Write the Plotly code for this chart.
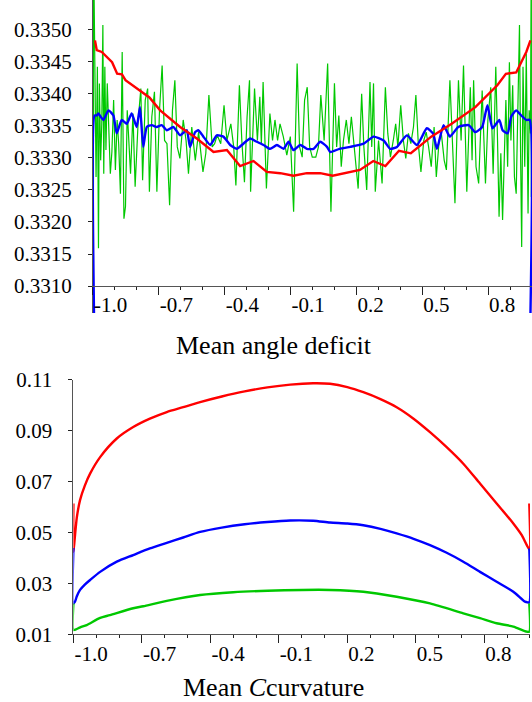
import plotly.graph_objects as go

# ---------------- top panel: Mean angle deficit ----------------
top_red_x = [-0.991, -0.983, -0.960, -0.913, -0.890, -0.868, -0.852, -0.805, -0.743, -0.694,
             -0.603, -0.527, -0.451, -0.390, -0.330, -0.269, -0.208, -0.147, -0.087, -0.026,
             0.035, 0.092, 0.155, 0.216, 0.277, 0.332, 0.394, 0.448, 0.541, 0.634,
             0.742, 0.842, 0.881, 0.928, 0.974, 0.993]
top_red_y = [0.33483, 0.33468, 0.33465, 0.33449, 0.33431, 0.33430, 0.33421, 0.33409, 0.33394, 0.33374,
             0.33348, 0.33330, 0.33309, 0.33312, 0.33287, 0.33295, 0.33278, 0.33276, 0.33272, 0.33276,
             0.33276, 0.33272, 0.33276, 0.33281, 0.33295, 0.33287, 0.33311, 0.33307, 0.33333, 0.33353,
             0.33379, 0.33413, 0.33431, 0.33433, 0.33465, 0.33483]

top_blue_x = [-0.993, -0.993, -0.983, -0.976, -0.953, -0.930, -0.907, -0.892, -0.869, -0.846,
              -0.824, -0.801, -0.786, -0.771, -0.755, -0.732, -0.710, -0.687, -0.664, -0.634,
              -0.603, -0.573, -0.558, -0.535, -0.520, -0.497, -0.466, -0.436, -0.406, -0.375,
              -0.345, -0.315, -0.284, -0.254, -0.223, -0.193, -0.162, -0.132, -0.109, -0.087,
              -0.056, -0.026, 0.005, 0.035, 0.066, 0.081, 0.123, 0.172, 0.233, 0.278,
              0.324, 0.354, 0.385, 0.430, 0.476, 0.521, 0.549, 0.567, 0.597, 0.626,
              0.664, 0.711, 0.742, 0.773, 0.797, 0.820, 0.851, 0.866, 0.889, 0.905,
              0.928, 0.951, 0.974, 0.990, 0.990]
top_blue_y = [0.33000, 0.33366, 0.33366, 0.33369, 0.33359, 0.33374, 0.33366, 0.33338, 0.33359, 0.33353,
              0.33369, 0.33348, 0.33379, 0.33317, 0.33348, 0.33351, 0.33348, 0.33351, 0.33343, 0.33348,
              0.33335, 0.33343, 0.33317, 0.33340, 0.33343, 0.33333, 0.33320, 0.33335, 0.33333, 0.33320,
              0.33314, 0.33322, 0.33330, 0.33325, 0.33320, 0.33314, 0.33320, 0.33314, 0.33325, 0.33312,
              0.33320, 0.33314, 0.33314, 0.33325, 0.33317, 0.33309, 0.33314, 0.33317, 0.33322, 0.33333,
              0.33327, 0.33314, 0.33317, 0.33335, 0.33320, 0.33346, 0.33338, 0.33314, 0.33351, 0.33333,
              0.33348, 0.33351, 0.33340, 0.33348, 0.33382, 0.33346, 0.33359, 0.33343, 0.33338, 0.33364,
              0.33374, 0.33366, 0.33359, 0.33359, 0.33000]

top_green_x = [-0.998, -0.998,
    -0.986, -0.980, -0.975, -0.971, -0.965, -0.960, -0.955, -0.951, -0.946, -0.941,
    -0.935, -0.929, -0.921, -0.914, -0.906, -0.898, -0.890, -0.883, -0.875, -0.867,
    -0.859, -0.852, -0.844, -0.829, -0.818, -0.808, -0.794, -0.782, -0.774, -0.762,
    -0.751, -0.743, -0.732, -0.720, -0.709, -0.697, -0.685, -0.674, -0.663, -0.651,
    -0.638, -0.627, -0.616, -0.604, -0.589, -0.576, -0.565, -0.550, -0.534, -0.519,
    -0.499, -0.486, -0.472, -0.457, -0.446, -0.434, -0.418, -0.403, -0.390, -0.372,
    -0.359, -0.349, -0.333, -0.322, -0.310, -0.298, -0.287, -0.282, -0.271, -0.264,
    -0.251, -0.240, -0.233, -0.225, -0.210, -0.194, -0.182, -0.171, -0.159, -0.148,
    -0.133, -0.117, -0.101, -0.086, -0.070, -0.059, -0.047, -0.036, -0.024, -0.013,
    -0.001, 0.015, 0.027, 0.038, 0.053, 0.069, 0.084, 0.100, 0.110, 0.120,
    0.131, 0.141, 0.154, 0.166, 0.177, 0.192, 0.208, 0.224, 0.234, 0.247,
    0.262, 0.270, 0.278, 0.286, 0.301, 0.317, 0.332, 0.343, 0.355, 0.368,
    0.379, 0.389, 0.402, 0.414, 0.425, 0.437, 0.448, 0.460, 0.471, 0.482,
    0.494, 0.507, 0.518, 0.529, 0.541, 0.554, 0.564, 0.577, 0.587, 0.600,
    0.610, 0.626, 0.638, 0.649, 0.665, 0.677, 0.688, 0.703, 0.719, 0.727,
    0.734, 0.745, 0.757, 0.773, 0.781, 0.788, 0.799, 0.812, 0.823, 0.835,
    0.843, 0.850, 0.858, 0.866, 0.881, 0.889, 0.897, 0.904, 0.912, 0.920,
    0.928, 0.936, 0.943, 0.948, 0.953, 0.959, 0.967, 0.974, 0.982, 0.987,
    0.993, 0.997, 0.997]
top_green_y = [0.33000, 0.33650,
    0.33270, 0.33442, 0.33159, 0.33416, 0.33296, 0.33353, 0.33507, 0.33275, 0.33442, 0.33312,
    0.33416, 0.33348, 0.33275, 0.33309, 0.33390, 0.33281, 0.33359, 0.33322, 0.33244, 0.33465,
    0.33205, 0.33224, 0.33374, 0.33275, 0.33369, 0.33255, 0.33359, 0.33408, 0.33265, 0.33390,
    0.33408, 0.33247, 0.33364, 0.33403, 0.33247, 0.33374, 0.33444, 0.33327, 0.33322, 0.33226,
    0.33374, 0.33421, 0.33317, 0.33299, 0.33359, 0.33327, 0.33275, 0.33348, 0.33296, 0.33340,
    0.33278, 0.33307, 0.33398, 0.33317, 0.33322, 0.33335, 0.33322, 0.33382, 0.33327, 0.33353,
    0.33317, 0.33257, 0.33413, 0.33327, 0.33262, 0.33364, 0.33421, 0.33247, 0.33338, 0.33408,
    0.33327, 0.33395, 0.33322, 0.33418, 0.33252, 0.33369, 0.33327, 0.33359, 0.33327, 0.33353,
    0.33333, 0.33304, 0.33333, 0.33216, 0.33447, 0.33317, 0.33301, 0.33390, 0.33410, 0.33317,
    0.33301, 0.33301, 0.33317, 0.33398, 0.33327, 0.33447, 0.33216, 0.33416, 0.33317, 0.33366,
    0.33286, 0.33327, 0.33359, 0.33322, 0.33364, 0.33312, 0.33252, 0.33400, 0.33317, 0.33250,
    0.33418, 0.33317, 0.33416, 0.33247, 0.33327, 0.33260, 0.33410, 0.33338, 0.33301, 0.33327,
    0.33353, 0.33317, 0.33382, 0.33327, 0.33299, 0.33338, 0.33322, 0.33348, 0.33398, 0.33322,
    0.33278, 0.33327, 0.33340, 0.33317, 0.33286, 0.33348, 0.33270, 0.33327, 0.33338, 0.33296,
    0.33281, 0.33421, 0.33322, 0.33229, 0.33421, 0.33327, 0.33444, 0.33247, 0.33410, 0.33296,
    0.33421, 0.33286, 0.33260, 0.33405, 0.33327, 0.33260, 0.33359, 0.33410, 0.33275, 0.33442,
    0.33327, 0.33208, 0.33307, 0.33203, 0.33390, 0.33286, 0.33449, 0.33327, 0.33413, 0.33270,
    0.33244, 0.33390, 0.33507, 0.33307, 0.33161, 0.33442, 0.33286, 0.33462, 0.33213, 0.33374,
    0.33338, 0.33650, 0.33239]

# ---------------- bottom panel: Mean C curvature ----------------
bot_red_x = [-1.0, -1.0, -0.995, -0.985, -0.971, -0.950, -0.927, -0.883, -0.810, -0.738,
             -0.665, -0.591, -0.519, -0.445, -0.350, -0.250, -0.150, -0.050, 0.050, 0.124,
             0.200, 0.270, 0.345, 0.416, 0.490, 0.562, 0.635, 0.708, 0.781, 0.854,
             0.927, 0.964, 0.986, 0.997, 0.997]
bot_red_y = [0.0615, 0.0425, 0.0470, 0.0560, 0.0628, 0.0685, 0.0732, 0.0797, 0.0870, 0.0915,
             0.0948, 0.0974, 0.0993, 0.1013, 0.1035, 0.1055, 0.1071, 0.1082, 0.1087, 0.1085,
             0.1072, 0.1052, 0.1025, 0.0993, 0.0948, 0.0895, 0.0836, 0.0771, 0.0693, 0.0615,
             0.0536, 0.0490, 0.0451, 0.0435, 0.0615]

bot_blue_x = [-1.0, -1.0, -0.993, -0.985, -0.971, -0.950, -0.927, -0.883, -0.810, -0.738,
              -0.665, -0.591, -0.519, -0.445, -0.350, -0.250, -0.150, -0.050, 0.050, 0.124,
              0.200, 0.270, 0.345, 0.416, 0.490, 0.562, 0.635, 0.708, 0.781, 0.854,
              0.927, 0.978, 0.990, 0.997, 0.997]
bot_blue_y = [0.0440, 0.0222, 0.0229, 0.0250, 0.0275, 0.0296, 0.0314, 0.0346, 0.0386, 0.0412,
              0.0438, 0.0460, 0.0481, 0.0503, 0.0520, 0.0533, 0.0542, 0.0548, 0.0547, 0.0540,
              0.0536, 0.0529, 0.0515, 0.0497, 0.0476, 0.0451, 0.0421, 0.0386, 0.0346, 0.0307,
              0.0268, 0.0229, 0.0226, 0.0226, 0.0438]

bot_green_x = [-1.0, -1.0, -0.989, -0.970, -0.942, -0.883, -0.840, -0.738, -0.694, -0.591,
               -0.445, -0.300, -0.150, 0.000, 0.124, 0.270, 0.416, 0.562, 0.708, 0.781,
               0.854, 0.927, 0.986, 0.997, 0.997]
bot_green_y = [0.0222, 0.0118, 0.0120, 0.0128, 0.0137, 0.0165, 0.0176, 0.0203, 0.0211, 0.0232,
               0.0255, 0.0266, 0.0272, 0.0275, 0.0275, 0.0268, 0.0248, 0.0222, 0.0183, 0.0164,
               0.0144, 0.0131, 0.0111, 0.0111, 0.0222]

# ---------------- ticks ----------------
x_tick_vals = [-1.0, -0.7, -0.4, -0.1, 0.2, 0.5, 0.8]
x_tick_text = ["-1.0", "-0.7", "-0.4", "-0.1", "0.2", "0.5", "0.8"]
top_y_tick_vals = [0.3310, 0.3315, 0.3320, 0.3325, 0.3330, 0.3335, 0.3340, 0.3345, 0.3350]
top_y_tick_text = ["0.3310", "0.3315", "0.3320", "0.3325", "0.3330", "0.3335", "0.3340", "0.3345", "0.3350"]
bot_y_tick_vals = [0.01, 0.03, 0.05, 0.07, 0.09, 0.11]
bot_y_tick_text = ["0.01", "0.03", "0.05", "0.07", "0.09", "0.11"]

titles = ["Mean angle deficit", "Mean <i>C</i>curvature"]

RED = "#ff0000"
BLUE = "#0000ff"
GREEN = "#00c800"
FONT = "Liberation Serif"

fig = go.Figure()
fig.add_trace(go.Scatter(x=top_green_x, y=top_green_y, mode="lines",
                         line=dict(color=GREEN, width=1.2), xaxis="x", yaxis="y"))
fig.add_trace(go.Scatter(x=top_blue_x, y=top_blue_y, mode="lines",
                         line=dict(color=BLUE, width=2.4, shape="spline", smoothing=0.5), xaxis="x", yaxis="y"))
fig.add_trace(go.Scatter(x=top_red_x, y=top_red_y, mode="lines",
                         line=dict(color=RED, width=2.4), xaxis="x", yaxis="y"))

for bx, by, col in [(bot_red_x, bot_red_y, RED), (bot_blue_x, bot_blue_y, BLUE),
                    (bot_green_x, bot_green_y, GREEN)]:
    fig.add_trace(go.Scatter(x=bx, y=by, mode="lines",
                             line=dict(color=col, width=2.4, shape="spline", smoothing=0.7),
                             xaxis="x2", yaxis="y2"))

tickfont = dict(family=FONT, size=21, color="black")

xcommon = dict(range=[-1.0, 1.0], tickmode="array", tickvals=x_tick_vals, ticktext=x_tick_text,
               ticks="outside", ticklen=8, tickwidth=1, tickcolor="#222",
               showline=True, linecolor="#555", linewidth=1, showgrid=False, zeroline=False,
               tickfont=tickfont, ticklabelposition="outside right", automargin=False,
               minor=dict(tickmode="linear", tick0=-1.0, dtick=0.1, ticks="outside",
                          ticklen=3, tickcolor="#222", showgrid=False))
ycommon = dict(tickmode="array", ticks="outside", ticklen=4, tickwidth=1, tickcolor="#222",
               showline=True, linecolor="#555", linewidth=1, showgrid=False, zeroline=False,
               tickfont=tickfont, automargin=False, ticklabelstandoff=12)

fig.update_layout(
    width=532, height=702,
    margin=dict(l=0, r=0, t=0, b=0),
    paper_bgcolor="white", plot_bgcolor="white",
    showlegend=False,
    xaxis=dict(domain=[0.1748, 1.0], anchor="free", position=0.5926, **xcommon),
    yaxis=dict(domain=[0.5541, 1.0], range=[0.33058, 0.33546], anchor="x",
               tickvals=top_y_tick_vals, ticktext=top_y_tick_text, **ycommon),
    xaxis2=dict(domain=[0.138, 0.9962], anchor="y2", **xcommon),
    yaxis2=dict(domain=[0.0962, 0.4587], range=[0.01, 0.11], anchor="x2",
                tickvals=bot_y_tick_vals, ticktext=bot_y_tick_text, **ycommon),
    annotations=[
        dict(text=titles[0], xref="paper", yref="paper", x=274 / 532, y=1 - 346 / 702,
             xanchor="center", yanchor="middle", showarrow=False,
             font=dict(family=FONT, size=26, color="black")),
        dict(text=titles[1], xref="paper", yref="paper", x=273 / 532, y=1 - 687 / 702,
             xanchor="center", yanchor="middle", showarrow=False,
             font=dict(family=FONT, size=26, color="black")),
    ],
)

page_fix = ("document.documentElement.style.margin='0';document.body.style.margin='0';"
            "document.body.style.padding='0';document.documentElement.style.overflow='hidden';"
            "document.body.style.overflow='hidden';")
fig.write_html("out.html", post_script=page_fix, config={"displayModeBar": False})
